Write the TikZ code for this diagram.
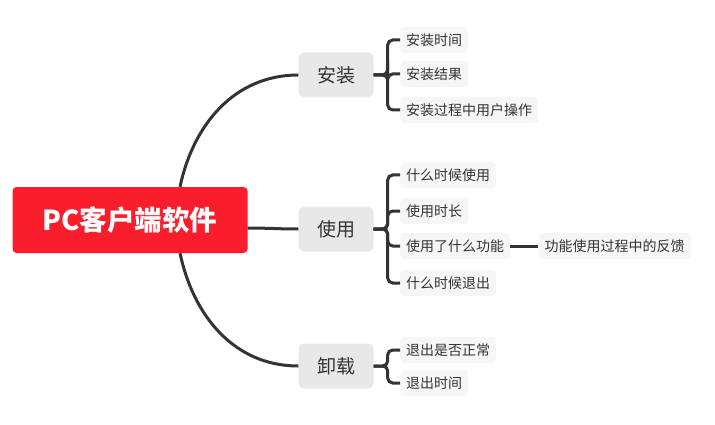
\documentclass[tikz,border=0pt]{standalone}
\usepackage{fontspec}
\setmainfont{Noto Sans CJK SC}
\usepackage{xcolor}
\usepackage{tikz}
\usetikzlibrary{positioning}
\definecolor{rootred}{RGB}{250, 30, 45}
\definecolor{branchgray}{RGB}{232, 232, 232}
\definecolor{leafgray}{RGB}{246, 246, 246}
\definecolor{linedark}{RGB}{51, 51, 51}

\begin{document}
\begin{tikzpicture}[
    x=1pt, y=-1pt,
    root/.style={rectangle, rounded corners=4pt, fill=rootred, text=white,
                 minimum width=235pt, minimum height=66pt, font=\fontsize{27.5}{32}\selectfont\bfseries},
    branch/.style={rectangle, rounded corners=6pt, fill=branchgray, text=linedark,
                   minimum width=75pt, minimum height=45pt, font=\fontsize{19}{22}\selectfont},
    leaf/.style={rectangle, rounded corners=4pt, fill=leafgray, text=linedark, anchor=west,
                 inner xsep=6pt, inner ysep=0pt, minimum height=26pt, font=\fontsize{14}{17}\selectfont},
    link/.style={draw=linedark, line width=3pt},
    bus/.style={draw=linedark, line width=3pt, rounded corners=5pt}
]
    \useasboundingbox (0,0) rectangle (715,425);

    \node[root] (pc) at (130,220) {PC客户端软件};

    \node[branch] (install) at (336,75) {安装};
    \node[branch] (usage) at (336,229) {使用};
    \node[branch] (uninstall) at (336,366) {卸载};

    \node[leaf] (itime) at (400,40) {安装时间};
    \node[leaf] (iresult) at (400,74) {安装结果};
    \node[leaf] (iop) at (400,110) {安装过程中用户操作};

    \node[leaf] (uwhen) at (400,175) {什么时候使用};
    \node[leaf] (ulong) at (400,211) {使用时长};
    \node[leaf] (ufunc) at (400,246) {使用了什么功能};
    \node[leaf] (uexit) at (400,283) {什么时候退出};
    \node[leaf, right=28pt of ufunc] (ufeed) {功能使用过程中的反馈};

    \node[leaf] (xok) at (400,350) {退出是否正常};
    \node[leaf] (xtime) at (400,383) {退出时间};

    \draw[link] ([xshift=50pt]pc.north) to[out=78, in=180] (install.west);
    \draw[link] ([yshift=-8pt]pc.east) to[out=0, in=180] (usage.west);
    \draw[link] ([xshift=50pt]pc.south) to[out=-78, in=180] (uninstall.west);

    \foreach \kid in {itime, iresult, iop}
        \draw[bus] (install.east) -- ++(14,0) |- (\kid.west);
    \foreach \kid in {uwhen, ulong, ufunc, uexit}
        \draw[bus] (usage.east) -- ++(14,0) |- (\kid.west);
    \foreach \kid in {xok, xtime}
        \draw[bus] (uninstall.east) -- ++(14,0) |- (\kid.west);

    \draw[bus] (ufunc) -- (ufeed);

\end{tikzpicture}
\end{document}
